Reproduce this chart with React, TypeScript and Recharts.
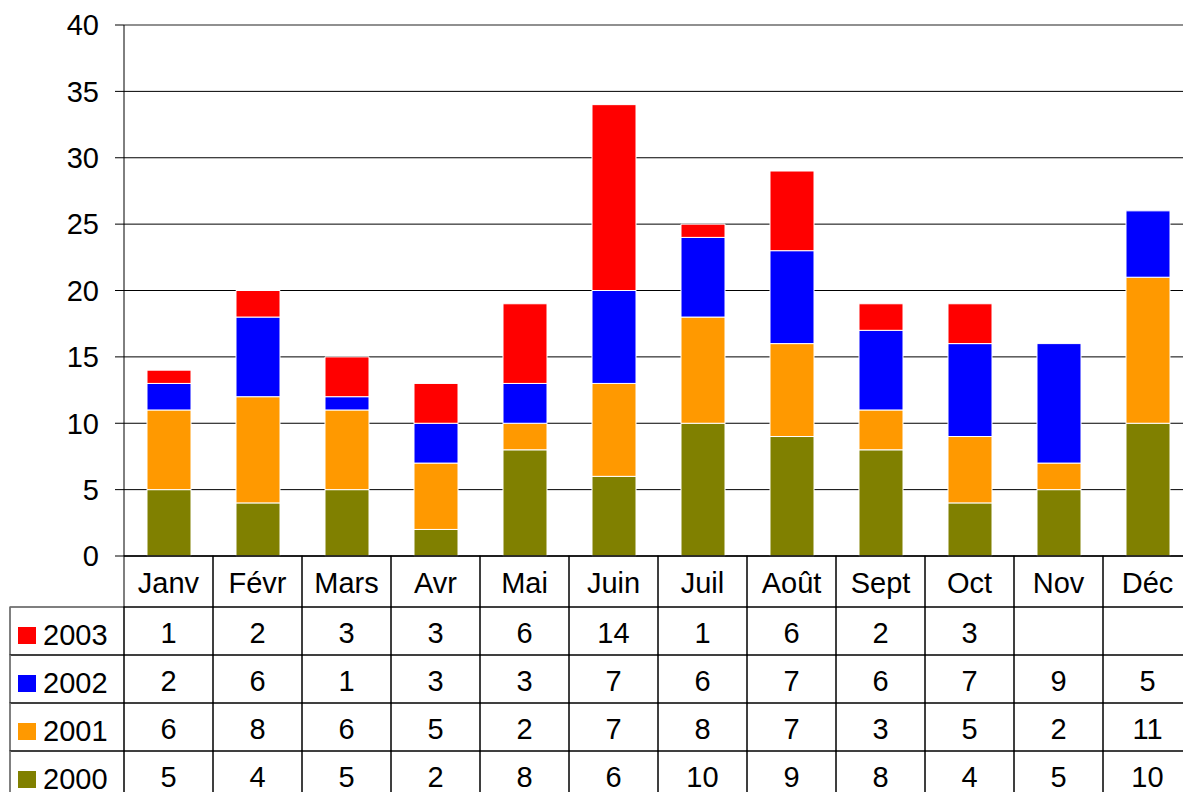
import { BarChart, Bar, XAxis, YAxis, CartesianGrid, ReferenceLine } from 'recharts';

const months = ['Janv', 'Févr', 'Mars', 'Avr', 'Mai', 'Juin', 'Juil', 'Août', 'Sept', 'Oct', 'Nov', 'Déc'];
const s2000 = [5, 4, 5, 2, 8, 6, 10, 9, 8, 4, 5, 10];
const s2001 = [6, 8, 6, 5, 2, 7, 8, 7, 3, 5, 2, 11];
const s2002 = [2, 6, 1, 3, 3, 7, 6, 7, 6, 7, 9, 5];
const s2003: (number | null)[] = [1, 2, 3, 3, 6, 14, 1, 6, 2, 3, null, null];
const yTicks = [0, 5, 10, 15, 20, 25, 30, 35, 40];

const series = [
  { key: 'y2000', name: '2000', values: s2000, color: '#808000' },
  { key: 'y2001', name: '2001', values: s2001, color: '#FF9900' },
  { key: 'y2002', name: '2002', values: s2002, color: '#0000FF' },
  { key: 'y2003', name: '2003', values: s2003, color: '#FF0000' },
];

// table rows are listed top to bottom: latest year first
const tableRows = [...series].reverse();

const data = months.map((m, i) => {
  const row: any = { month: m };
  series.forEach((s) => {
    row[s.key] = s.values[i];
  });
  return row;
});

const FONT = '"Liberation Sans", Arial, sans-serif';
const FS = 29;
const W = 1200;
const H = 799;
const PLOT_LEFT = 124;
const PLOT_RIGHT = 8;
const BAND = (W - PLOT_LEFT - PLOT_RIGHT) / months.length;
const TABLE_LEFT = 10;
const HEAD_H = 51;
const ROW_H = 48;

function CategoryTick(props: any) {
  const { x, y, payload } = props;
  return (
    <g>
      <rect x={x - BAND / 2} y={y} width={BAND} height={HEAD_H} fill="none" stroke="#000" strokeWidth={1} />
      <text x={x} y={y + HEAD_H / 2 + 1} textAnchor="middle" dominantBaseline="central" fontFamily={FONT} fontSize={FS} fill="#000">
        {payload.value}
      </text>
    </g>
  );
}

function makeRowTick(s: any) {
  return function RowTick(props: any) {
    const { x, y, index } = props;
    const v = s.values[index];
    const left = x - BAND / 2;
    return (
      <g>
        {index === 0 && (
          <g>
            <rect x={TABLE_LEFT} y={y} width={left - TABLE_LEFT} height={ROW_H} fill="none" stroke="#000" strokeWidth={1} />
            <line x1={TABLE_LEFT} y1={y} x2={TABLE_LEFT} y2={y + ROW_H} stroke="#808080" strokeWidth={1.5} />
            <rect x={18} y={y + 20} width={18} height={17} fill={s.color} />
            <text x={43} y={y + ROW_H / 2 + 4} dominantBaseline="central" fontFamily={FONT} fontSize={FS} fill="#000">
              {s.name}
            </text>
          </g>
        )}
        <rect x={left} y={y} width={BAND} height={ROW_H} fill="none" stroke="#000" strokeWidth={1} />
        <text x={x} y={y + ROW_H / 2 + 2} textAnchor="middle" dominantBaseline="central" fontFamily={FONT} fontSize={FS} fill="#000">
          {v == null ? '' : v}
        </text>
      </g>
    );
  };
}

export default function App() {
  return (
    <div style={{ position: 'absolute', left: 0, top: 0, width: 1183, height: 792, overflow: 'hidden', background: '#fff' }}>
      <BarChart width={W} height={H} data={data} margin={{ top: 25, right: PLOT_RIGHT, bottom: 0, left: PLOT_LEFT - 60 }}>
        <CartesianGrid vertical={false} stroke="#000" strokeWidth={1} />
        <ReferenceLine y={40} stroke="#909090" strokeWidth={2} />
        <YAxis
          width={60}
          domain={[0, 40]}
          ticks={yTicks}
          interval={0}
          axisLine={{ stroke: '#000' }}
          tickLine={{ stroke: '#000' }}
          tickSize={9}
          tickMargin={16}
          tick={{ fontFamily: FONT, fontSize: FS, fill: '#000' }}
        />
        <XAxis
          dataKey="month"
          height={HEAD_H}
          interval={0}
          tickSize={0}
          tickMargin={0}
          tickLine={false}
          axisLine={{ stroke: '#000' }}
          tick={<CategoryTick />}
        />
        {tableRows.map((s, i) => (
          <XAxis
            key={s.key}
            xAxisId={`row${i + 1}`}
            dataKey="month"
            height={ROW_H}
            interval={0}
            tickSize={0}
            tickMargin={0}
            tickLine={false}
            axisLine={false}
            tick={makeRowTick(s)}
          />
        ))}
        {series.map((s) => (
          <Bar
            key={s.key}
            dataKey={s.key}
            name={s.name}
            stackId="a"
            fill={s.color}
            stroke="#ffffff"
            strokeWidth={1}
            barSize={44}
            isAnimationActive={false}
          />
        ))}
      </BarChart>
    </div>
  );
}
